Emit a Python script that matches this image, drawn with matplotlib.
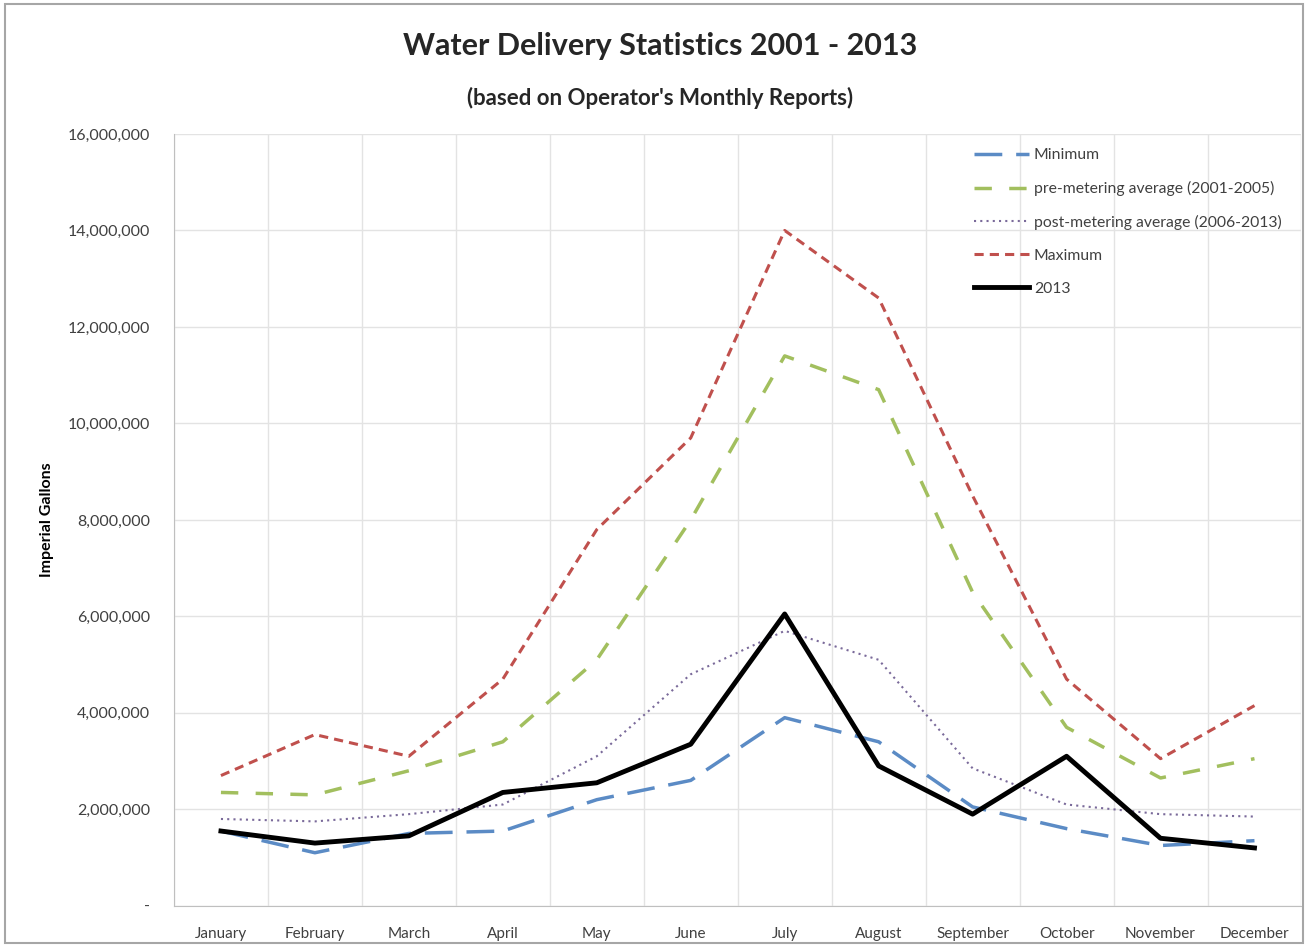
import numpy as np
import matplotlib
matplotlib.use("Agg")
import matplotlib.pyplot as plt
from matplotlib.ticker import FuncFormatter, MultipleLocator
from matplotlib.patches import Rectangle

plt.rcParams['font.family'] = ['Lato', 'DejaVu Sans']

# ---------------- data (imperial gallons) ----------------
months = ['January', 'February', 'March', 'April', 'May', 'June', 'July',
          'August', 'September', 'October', 'November', 'December']
minimum = [1550000, 1100000, 1500000, 1550000, 2200000, 2600000, 3900000,
           3400000, 2050000, 1600000, 1250000, 1350000]
pre_avg = [2350000, 2300000, 2800000, 3400000, 5100000, 8000000, 11400000,
           10700000, 6500000, 3700000, 2650000, 3050000]
post_avg = [1800000, 1750000, 1900000, 2100000, 3100000, 4800000, 5700000,
            5100000, 2850000, 2100000, 1900000, 1850000]
maximum = [2700000, 3550000, 3100000, 4700000, 7800000, 9700000, 14000000,
           12600000, 8500000, 4700000, 3050000, 4150000]
y2013 = [1550000, 1300000, 1450000, 2350000, 2550000, 3350000, 6050000,
         2900000, 1900000, 3100000, 1400000, 1200000]

# ---------------- plot ----------------
fig = plt.figure(figsize=(13.08, 9.47), dpi=100)
ax = fig.add_axes([0.133, 0.0435, 0.862, 0.815])
x = np.arange(len(months))

ax.plot(x, minimum, color='#5B8BC5', lw=2.5, dashes=(8, 4), label='Minimum')
ax.plot(x, pre_avg, color='#A2BF5E', lw=2.5, dashes=(5, 5),
        label='pre-metering average (2001-2005)')
ax.plot(x, post_avg, color='#7A6A9A', lw=1.5, linestyle=(0, (1, 2)),
        label='post-metering average (2006-2013)')
ax.plot(x, maximum, color='#C0504D', lw=2.2, dashes=(3, 2), label='Maximum')
ax.plot(x, y2013, color='black', lw=3.5, label='2013')

ax.set_xlim(-0.5, 11.5)
ax.set_ylim(0, 16000000)
ax.yaxis.set_major_locator(MultipleLocator(2000000))
ax.yaxis.set_major_formatter(FuncFormatter(lambda v, p: '-' if v == 0 else f'{int(v):,}'))
ax.set_xticks(x)
ax.set_xticklabels(months)
ax.set_xticks(np.arange(-0.5, 12, 1), minor=True)
ax.grid(which='minor', axis='x', color='#E3E3E3', lw=1)
ax.grid(which='major', axis='y', color='#E3E3E3', lw=1)
ax.tick_params(which='both', length=0)
ax.tick_params(axis='y', labelsize=11.5, colors='#404040', pad=17)
ax.tick_params(axis='x', labelsize=11, colors='#404040', pad=15)
for s in ['top', 'right']:
    ax.spines[s].set_visible(False)
for s in ['left', 'bottom']:
    ax.spines[s].set_color('#BFBFBF')
ax.set_axisbelow(True)

ax.set_ylabel('Imperial Gallons', fontsize=11.5, fontweight='bold', labelpad=10)

fig.text(0.505, 0.951, 'Water Delivery Statistics 2001 - 2013', ha='center',
         va='center', fontsize=22, fontweight='bold', color='#262626')
fig.text(0.505, 0.897, "(based on Operator's Monthly Reports)", ha='center',
         va='center', fontsize=16, fontweight='bold', color='#262626')

leg = ax.legend(loc='upper right', bbox_to_anchor=(0.995, 1.0), frameon=False,
                fontsize=11.3, handlelength=3.5, labelspacing=1.2,
                handletextpad=0.3)
for t in leg.get_texts():
    t.set_color('#404040')

fig.patches.append(Rectangle((0.004, 0.004), 0.992, 0.992, transform=fig.transFigure,
                             fill=False, edgecolor='#A6A6A6', lw=1.5))

fig.savefig('out.png', dpi=100)
